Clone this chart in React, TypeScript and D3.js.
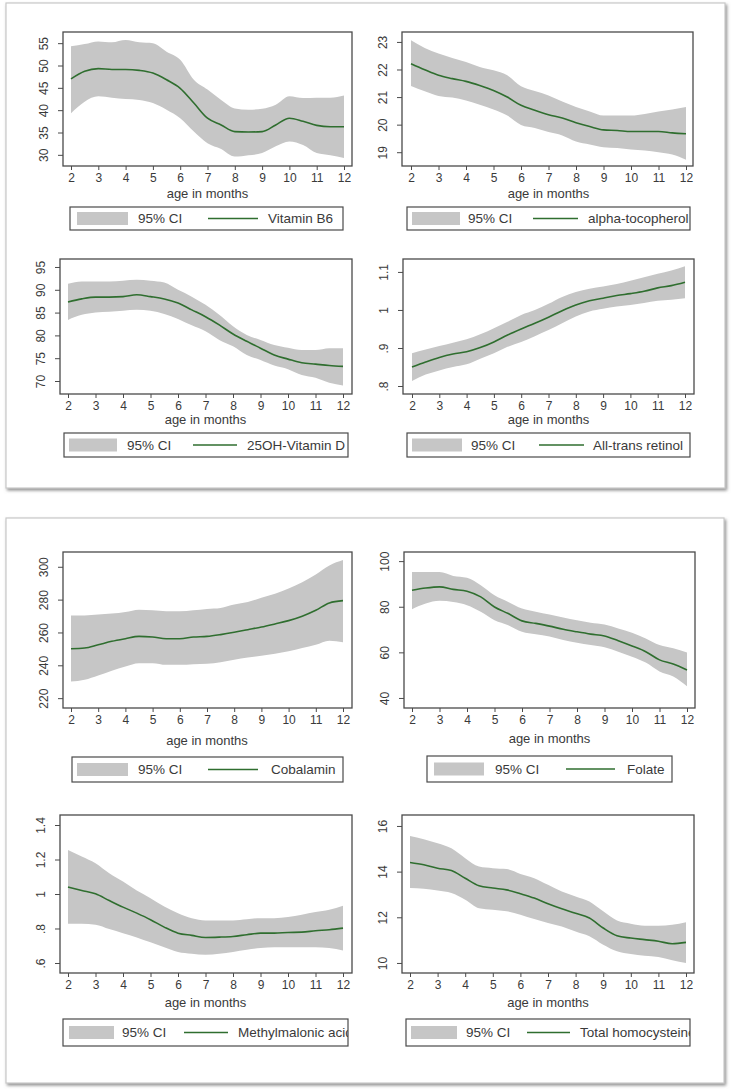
import { useEffect, useRef } from "react";
import * as d3 from "d3";

const W = 731;
const H = 1091;
const BAND = "#c6c6c6";
const LINE = "#2f6e2f";
const INK = "#3a3a3a";
const FONT = "'Liberation Sans', Arial, sans-serif";

const MONTHS = [2, 2.5, 3, 3.5, 4, 4.5, 5, 5.5, 6, 6.5, 7, 7.5, 8, 8.5, 9, 9.5, 10, 10.5, 11, 11.5, 12];
const X_TICKS = [2, 3, 4, 5, 6, 7, 8, 9, 10, 11, 12];

const B6_MEAN = [47.0, 48.7, 49.3, 49.1, 49.1, 48.9, 48.3, 46.8, 44.9, 41.6, 38.2, 36.7, 35.2, 35.1, 35.2, 36.7, 38.2, 37.5, 36.6, 36.3, 36.3];
const B6_HI = [54.3, 54.8, 55.4, 55.2, 55.7, 55.2, 55.0, 53.1, 51.3, 46.8, 44.6, 42.3, 40.4, 40.1, 40.3, 41.2, 43.1, 42.7, 42.8, 42.8, 43.3];
const B6_LO = [39.3, 41.9, 43.1, 42.8, 42.5, 42.3, 41.6, 40.1, 38.2, 35.2, 32.6, 31.3, 29.6, 29.9, 30.4, 31.9, 33.0, 32.2, 30.4, 29.9, 29.3];
const B6_TICKS = [30, 35, 40, 45, 50, 55];

const ATOC_MEAN = [22.21, 21.99, 21.79, 21.67, 21.57, 21.42, 21.24, 21.0, 20.7, 20.52, 20.36, 20.24, 20.07, 19.93, 19.81, 19.79, 19.75, 19.75, 19.75, 19.7, 19.67];
const ATOC_HI = [23.06, 22.78, 22.58, 22.42, 22.27, 22.09, 21.97, 21.79, 21.39, 21.22, 21.06, 20.84, 20.64, 20.48, 20.33, 20.33, 20.33, 20.39, 20.48, 20.55, 20.64];
const ATOC_LO = [21.4, 21.21, 21.04, 20.98, 20.88, 20.72, 20.55, 20.33, 19.99, 19.88, 19.73, 19.61, 19.39, 19.28, 19.18, 19.15, 19.1, 19.06, 19.0, 18.92, 18.73];
const ATOC_TICKS = [19, 20, 21, 22, 23];

const VITD_MEAN = [87.3, 88.0, 88.4, 88.4, 88.5, 88.9, 88.5, 88.0, 87.1, 85.6, 84.1, 82.3, 80.3, 78.7, 77.2, 75.7, 74.8, 74.0, 73.7, 73.4, 73.2];
const VITD_HI = [91.3, 91.8, 91.8, 91.8, 92.0, 92.2, 92.0, 91.6, 90.0, 88.5, 86.7, 84.5, 82.0, 80.1, 79.0, 77.9, 77.3, 76.8, 76.8, 77.2, 77.2];
const VITD_LO = [83.4, 84.5, 85.0, 85.2, 85.4, 85.6, 85.4, 84.7, 83.6, 82.2, 80.9, 79.0, 77.6, 75.7, 74.6, 73.4, 72.6, 71.3, 70.7, 69.6, 69.0];
const VITD_TICKS = [70, 75, 80, 85, 90, 95];

const RET_MEAN = [0.85, 0.863, 0.875, 0.884, 0.89, 0.901, 0.916, 0.934, 0.95, 0.965, 0.981, 0.998, 1.013, 1.024, 1.031, 1.038, 1.043, 1.049, 1.058, 1.064, 1.073];
const RET_HI = [0.886, 0.896, 0.905, 0.914, 0.923, 0.936, 0.952, 0.969, 0.987, 1.0, 1.016, 1.034, 1.047, 1.056, 1.062, 1.068, 1.077, 1.086, 1.095, 1.104, 1.115];
const RET_LO = [0.813, 0.83, 0.841, 0.85, 0.857, 0.872, 0.886, 0.903, 0.916, 0.931, 0.947, 0.965, 0.983, 0.996, 1.003, 1.009, 1.013, 1.018, 1.024, 1.027, 1.031];
const RET_TICKS = [0.8, 0.9, 1, 1.1];

const COB_MEAN = [250.1, 250.5, 252.5, 254.6, 256.2, 257.6, 257.2, 256.2, 256.2, 257.2, 257.6, 258.7, 260.1, 261.7, 263.3, 265.2, 267.2, 269.9, 273.5, 278.0, 279.4];
const COB_HI = [270.3, 270.3, 270.9, 271.5, 272.5, 273.9, 273.5, 272.9, 272.9, 273.5, 274.3, 274.9, 277.0, 278.6, 281.1, 283.5, 286.8, 290.6, 295.3, 300.8, 304.1];
const COB_LO = [230.1, 231.2, 233.8, 236.7, 239.3, 241.3, 241.3, 240.3, 240.3, 240.7, 240.9, 241.8, 243.4, 244.8, 245.8, 247.0, 248.5, 250.5, 252.5, 255.0, 254.0];
const COB_TICKS = [220, 240, 260, 280, 300];

const FOL_MEAN = [87.2, 88.2, 88.7, 87.6, 86.8, 84.3, 79.9, 77.0, 73.8, 72.7, 71.5, 70.1, 69.0, 68.0, 67.2, 65.1, 62.8, 60.3, 56.7, 54.9, 52.3];
const FOL_HI = [95.2, 95.2, 95.2, 93.5, 92.7, 89.4, 85.0, 82.1, 79.2, 77.8, 76.6, 75.3, 74.1, 73.0, 72.2, 70.5, 68.6, 66.1, 63.2, 61.8, 59.9];
const FOL_LO = [78.9, 81.4, 82.6, 82.1, 80.7, 77.8, 74.1, 71.9, 69.0, 67.9, 66.9, 65.4, 64.2, 63.2, 62.2, 60.3, 58.1, 55.5, 51.6, 49.4, 45.1];
const FOL_TICKS = [40, 60, 80, 100];

const MMA_MEAN = [1.04, 1.02, 1.001, 0.962, 0.924, 0.889, 0.851, 0.808, 0.773, 0.76, 0.748, 0.75, 0.754, 0.764, 0.773, 0.773, 0.777, 0.779, 0.787, 0.793, 0.802];
const MMA_HI = [1.255, 1.217, 1.178, 1.12, 1.072, 1.02, 0.976, 0.928, 0.889, 0.86, 0.847, 0.847, 0.847, 0.854, 0.86, 0.86, 0.866, 0.88, 0.895, 0.908, 0.932];
const MMA_LO = [0.827, 0.827, 0.822, 0.797, 0.773, 0.748, 0.72, 0.692, 0.664, 0.654, 0.648, 0.654, 0.664, 0.677, 0.687, 0.691, 0.691, 0.691, 0.691, 0.687, 0.673];
const MMA_TICKS = [0.6, 0.8, 1, 1.2, 1.4];

const HCY_MEAN = [14.4, 14.3, 14.15, 14.05, 13.71, 13.38, 13.28, 13.2, 13.03, 12.84, 12.59, 12.37, 12.18, 11.97, 11.53, 11.19, 11.09, 11.02, 10.95, 10.84, 10.9];
const HCY_HI = [15.56, 15.42, 15.24, 15.02, 14.59, 14.22, 14.15, 14.11, 13.9, 13.71, 13.42, 13.13, 12.91, 12.69, 12.26, 11.86, 11.72, 11.63, 11.63, 11.67, 11.78];
const HCY_LO = [13.28, 13.25, 13.17, 13.06, 12.77, 12.4, 12.33, 12.26, 12.11, 11.92, 11.75, 11.6, 11.38, 11.17, 10.8, 10.51, 10.39, 10.32, 10.26, 10.12, 10.0];
const HCY_TICKS = [10, 12, 14, 16];

const PANELS = [
  { label: "Vitamin B6", mean: B6_MEAN, lo: B6_LO, hi: B6_HI, ticks: B6_TICKS, domain: [27.5, 57.5] },
  { label: "alpha-tocopherol", mean: ATOC_MEAN, lo: ATOC_LO, hi: ATOC_HI, ticks: ATOC_TICKS, domain: [18.5, 23.36] },
  { label: "25OH-Vitamin D", mean: VITD_MEAN, lo: VITD_LO, hi: VITD_HI, ticks: VITD_TICKS, domain: [67.15, 96.75] },
  { label: "All-trans retinol", mean: RET_MEAN, lo: RET_LO, hi: RET_HI, ticks: RET_TICKS, domain: [0.779, 1.134] },
  { label: "Cobalamin", mean: COB_MEAN, lo: COB_LO, hi: COB_HI, ticks: COB_TICKS, domain: [214, 309] },
  { label: "Folate", mean: FOL_MEAN, lo: FOL_LO, hi: FOL_HI, ticks: FOL_TICKS, domain: [35.6, 104] },
  { label: "Methylmalonic acid", mean: MMA_MEAN, lo: MMA_LO, hi: MMA_HI, ticks: MMA_TICKS, domain: [0.542, 1.458] },
  { label: "Total homocysteine", mean: HCY_MEAN, lo: HCY_LO, hi: HCY_HI, ticks: HCY_TICKS, domain: [9.56, 16.48] },
];

// pixel layout: plot box, x range, axis title offset, legend pieces
const LAYOUT = [
  { box: [63, 32, 352, 166], xr: [71, 344], titleDy: 27, leg: { x: [70, 343], y: [207, 230], sw: [77, 128], t1: 138, ln: [208, 258], t2: 268 } },
  { box: [402, 32, 693, 166], xr: [411, 686], titleDy: 27, leg: { x: [407, 690], y: [207, 230], sw: [412, 460], t1: 468, ln: [533, 578], t2: 588 } },
  { box: [60, 259, 352, 394], xr: [68, 343], titleDy: 25, leg: { x: [64, 348], y: [433, 457], sw: [69, 117], t1: 127, ln: [193, 237], t2: 247 } },
  { box: [403, 259, 694, 394], xr: [412, 685], titleDy: 25, leg: { x: [407, 690], y: [433, 457], sw: [412, 462], t1: 471, ln: [539, 584], t2: 593 } },
  { box: [63, 552, 352, 708], xr: [71, 343], titleDy: 32, leg: { x: [72, 343], y: [757, 782], sw: [77, 128], t1: 138, ln: [208, 258], t2: 271 } },
  { box: [404, 552, 695, 708], xr: [412, 687], titleDy: 30, leg: { x: [427, 672], y: [756, 782], sw: [434, 484], t1: 495, ln: [566, 615], t2: 627 } },
  { box: [60, 815, 352, 973], xr: [68, 343], titleDy: 29, leg: { x: [63, 348], y: [1019, 1046], sw: [69, 114], t1: 122, ln: [184, 228], t2: 238 } },
  { box: [402, 815, 694, 973], xr: [410, 686], titleDy: 29, leg: { x: [406, 690], y: [1019, 1046], sw: [411, 457], t1: 466, ln: [527, 570], t2: 580 } },
];

const FRAMES = [
  [6, 3, 725, 488],
  [6, 518, 724, 1083],
];

function fmtTick(v: number): string {
  return String(+v.toFixed(2)).replace(/^0\./, ".");
}

export default function App() {
  const svgRef = useRef<SVGSVGElement>(null);

  useEffect(() => {
    if (!svgRef.current) return;
    const svg = d3.select(svgRef.current);
    svg.selectAll("*").remove();

    const defs = svg.append("defs");
    const shadow = defs.append("filter").attr("id", "shadow").attr("x", "-5%").attr("y", "-5%").attr("width", "110%").attr("height", "110%");
    shadow.append("feDropShadow").attr("dx", 1.5).attr("dy", 2).attr("stdDeviation", 1.6).attr("flood-color", "#777").attr("flood-opacity", 0.8);

    svg.append("rect").attr("width", W).attr("height", H).attr("fill", "#fff");

    // the two outer panels
    FRAMES.forEach(([x0, y0, x1, y1]) => {
      svg.append("rect")
        .attr("x", x0).attr("y", y0).attr("width", x1 - x0).attr("height", y1 - y0)
        .attr("fill", "#fff").attr("stroke", "#c9c9c9").attr("stroke-width", 1.2)
        .attr("filter", "url(#shadow)");
    });

    PANELS.forEach((p, i) => {
      const lay = LAYOUT[i];
      const [bx0, by0, bx1, by1] = lay.box;
      const g = svg.append("g");

      const x = d3.scaleLinear().domain([2, 12]).range(lay.xr);
      const y = d3.scaleLinear().domain(p.domain).range([by1, by0]);
      const rows = MONTHS.map((m, k) => ({ m, mean: p.mean[k], lo: p.lo[k], hi: p.hi[k] }));

      const area = d3.area<(typeof rows)[number]>()
        .x((d) => x(d.m))
        .y0((d) => y(d.lo))
        .y1((d) => y(d.hi))
        .curve(d3.curveMonotoneX);
      const line = d3.line<(typeof rows)[number]>()
        .x((d) => x(d.m))
        .y((d) => y(d.mean))
        .curve(d3.curveMonotoneX);

      g.append("path").attr("d", area(rows)).attr("fill", BAND);
      g.append("path").attr("d", line(rows)).attr("fill", "none").attr("stroke", LINE).attr("stroke-width", 1.6);

      g.append("rect")
        .attr("x", bx0).attr("y", by0).attr("width", bx1 - bx0).attr("height", by1 - by0)
        .attr("fill", "none").attr("stroke", "#4a4a4a").attr("stroke-width", 1.3);

      // X axis
      const xa = g.append("g")
        .attr("transform", `translate(0,${by1})`)
        .call(d3.axisBottom(x).tickValues(X_TICKS).tickSize(4).tickPadding(3).tickFormat((d) => String(d)));
      xa.select(".domain").remove();
      xa.selectAll(".tick line").attr("stroke", "#4a4a4a");
      xa.selectAll("text").attr("fill", INK).attr("font-size", 12).attr("font-family", FONT);

      // Y axis, labels turned on their side
      const ya = g.append("g")
        .attr("transform", `translate(${bx0},0)`)
        .call(d3.axisLeft(y).tickValues(p.ticks).tickSize(5).tickFormat((d) => fmtTick(+d)));
      ya.select(".domain").remove();
      ya.selectAll(".tick line").attr("stroke", "#4a4a4a");
      ya.selectAll("text")
        .attr("transform", "rotate(-90)")
        .attr("x", 0).attr("y", -15).attr("dy", 0)
        .attr("text-anchor", "middle")
        .attr("fill", INK).attr("font-size", 12).attr("font-family", FONT);

      g.append("text")
        .attr("x", (lay.xr[0] + lay.xr[1]) / 2)
        .attr("y", by1 + lay.titleDy)
        .attr("dy", "0.35em")
        .attr("text-anchor", "middle")
        .attr("fill", INK).attr("font-size", 13).attr("font-family", FONT)
        .text("age in months");

      // legend
      const L = lay.leg;
      const cy = (L.y[0] + L.y[1]) / 2;
      const clipId = `leg-clip-${i}`;
      defs.append("clipPath").attr("id", clipId)
        .append("rect").attr("x", L.x[0]).attr("y", L.y[0]).attr("width", L.x[1] - L.x[0]).attr("height", L.y[1] - L.y[0]);
      const lg = g.append("g");
      lg.append("rect")
        .attr("x", L.x[0]).attr("y", L.y[0]).attr("width", L.x[1] - L.x[0]).attr("height", L.y[1] - L.y[0])
        .attr("fill", "#fff");
      const inner = lg.append("g").attr("clip-path", `url(#${clipId})`);
      inner.append("rect")
        .attr("x", L.sw[0]).attr("y", cy - 6.5).attr("width", L.sw[1] - L.sw[0]).attr("height", 13)
        .attr("fill", BAND);
      inner.append("text")
        .attr("x", L.t1).attr("y", cy).attr("dy", "0.35em")
        .attr("fill", INK).attr("font-size", 13.5).attr("font-family", FONT)
        .text("95% CI");
      inner.append("line")
        .attr("x1", L.ln[0]).attr("x2", L.ln[1]).attr("y1", cy).attr("y2", cy)
        .attr("stroke", LINE).attr("stroke-width", 1.6);
      inner.append("text")
        .attr("x", L.t2).attr("y", cy).attr("dy", "0.35em")
        .attr("fill", INK).attr("font-size", 13.5).attr("font-family", FONT)
        .text(p.label);
      lg.append("rect")
        .attr("x", L.x[0]).attr("y", L.y[0]).attr("width", L.x[1] - L.x[0]).attr("height", L.y[1] - L.y[0])
        .attr("fill", "none").attr("stroke", "#4a4a4a").attr("stroke-width", 1.2);
    });
  }, []);

  return (
    <svg
      ref={svgRef}
      width={W}
      height={H}
      style={{ position: "absolute", left: 0, top: 0, display: "block" }}
    />
  );
}
